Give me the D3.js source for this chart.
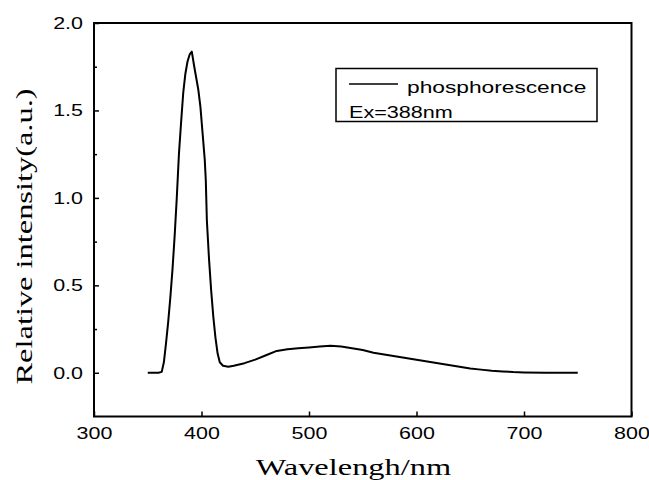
<!DOCTYPE html>
<html>
<head>
<meta charset="utf-8">
<script src="https://cdn.jsdelivr.net/npm/d3@7"></script>
<style>
  body { margin: 0; background: #fff; }
  svg { display: block; }
</style>
</head>
<body>
<svg id="chart" width="649" height="480"></svg>
<script>
// spectrum
const wavelength = [350, 355, 360, 363, 365, 367, 369, 371, 373, 375, 377, 379, 381, 383, 385, 387, 389, 391,
  393, 395, 397, 399, 401, 403, 404, 405, 407, 409, 411, 413, 415, 417, 420, 425, 430, 440, 450, 460, 470,
  480, 490, 500, 510, 520, 530, 540, 550, 560, 570, 580, 590, 600, 610, 620, 630, 640, 650, 660, 670, 680,
  690, 700, 720, 750]
const intensity = [0, 0, 0, 0.005, 0.06, 0.17, 0.29, 0.43, 0.59, 0.78, 1.0, 1.25, 1.43, 1.6, 1.71, 1.78, 1.82, 1.836,
  1.76, 1.69, 1.62, 1.52, 1.37, 1.22, 1.1, 0.87, 0.65, 0.47, 0.32, 0.2, 0.11, 0.06, 0.04, 0.035, 0.04, 0.055, 0.075, 0.1, 0.125,
  0.135, 0.14, 0.145, 0.15, 0.155, 0.15, 0.14, 0.13, 0.115, 0.105, 0.095, 0.085, 0.075, 0.065, 0.055, 0.045, 0.035, 0.025, 0.018, 0.012, 0.008,
  0.004, 0.002, 0, 0]

const xTicks = [300, 400, 500, 600, 700, 800]
const yTicks = [0, 0.5, 1.0, 1.5, 2.0]
const yMinor = [0.25, 0.75, 1.25, 1.75]
const legendLabels = ["phosphorescence", "Ex=388nm"]

const svg = d3.select("#chart")
const L = 94, R = 631.5, T = 23, B = 416.5

const x = d3.scaleLinear().domain([300, 800]).range([L, R])
const y = d3.scaleLinear().domain([-0.25, 2.0]).range([B, T])

// stretch text along its length, the reference glyphs are wide
function stretch(sel, k) {
  sel.each(function() {
    const w = this.getComputedTextLength()
    d3.select(this).attr("textLength", w * k).attr("lengthAdjust", "spacingAndGlyphs")
  })
}

const sans = "Arial, 'Liberation Sans', sans-serif"
const serif = "'Times New Roman', 'Liberation Serif', serif"

// minor y ticks
svg.append("g")
  .attr("transform", `translate(${L},0)`)
  .call(d3.axisLeft(y).tickValues(yMinor).tickSize(-3).tickFormat(""))
  .call(g => g.select(".domain").remove())
  .selectAll("line").attr("stroke", "#000").attr("stroke-width", 1.5)

const yAxis = svg.append("g")
  .attr("transform", `translate(${L},0)`)
  .call(d3.axisLeft(y).tickValues(yTicks).tickSize(-5).tickSizeOuter(0).tickPadding(11).tickFormat(d3.format(".1f")))
yAxis.select(".domain").remove()
yAxis.selectAll("line").attr("stroke", "#000").attr("stroke-width", 1.5)
yAxis.selectAll("text").attr("font-family", sans).attr("font-size", 16.5).attr("fill", "#000")

const xAxis = svg.append("g")
  .attr("transform", `translate(0,${B})`)
  .call(d3.axisBottom(x).tickValues(xTicks).tickSize(-5).tickSizeOuter(0).tickPadding(11).tickFormat(d3.format("d")))
xAxis.select(".domain").remove()
xAxis.selectAll("line").attr("stroke", "#000").attr("stroke-width", 1.5)
xAxis.selectAll("text").attr("font-family", sans).attr("font-size", 16.5).attr("fill", "#000")

stretch(yAxis.selectAll("text"), 1.3)
stretch(xAxis.selectAll("text"), 1.3)

// frame
svg.append("rect")
  .attr("x", L).attr("y", T).attr("width", R - L).attr("height", B - T)
  .attr("fill", "none").attr("stroke", "#000").attr("stroke-width", 2)

// spectrum
const pts = wavelength.map((w, i) => [w, intensity[i]])
svg.append("path")
  .datum(pts)
  .attr("fill", "none")
  .attr("stroke", "#000")
  .attr("stroke-width", 2)
  .attr("stroke-linejoin", "round")
  .attr("d", d3.line().x(d => x(d[0])).y(d => y(d[1])))

// legend
const lg = svg.append("g")
lg.append("rect")
  .attr("x", 336).attr("y", 68.5).attr("width", 261).attr("height", 53)
  .attr("fill", "#fff").attr("stroke", "#000").attr("stroke-width", 1.5)
lg.append("line")
  .attr("x1", 349).attr("x2", 398).attr("y1", 84).attr("y2", 84)
  .attr("stroke", "#000").attr("stroke-width", 1.5)
lg.append("text")
  .attr("x", 407).attr("y", 93)
  .attr("font-family", sans).attr("font-size", 16).attr("fill", "#000")
  .text(legendLabels[0])
lg.append("text")
  .attr("x", 349).attr("y", 118)
  .attr("font-family", sans).attr("font-size", 16).attr("fill", "#000")
  .text(legendLabels[1])
stretch(lg.selectAll("text").filter((d, i) => i === 0), 1.42)
stretch(lg.selectAll("text").filter((d, i) => i === 1), 1.35)

// axis titles
const xt = svg.append("text")
  .attr("x", 353.5).attr("y", 475)
  .attr("text-anchor", "middle")
  .attr("font-family", serif).attr("font-size", 24).attr("fill", "#000")
  .text("Wavelengh/nm")
stretch(xt, 1.35)

const yt = svg.append("text")
  .attr("transform", "translate(32,236.5) rotate(-90)")
  .attr("text-anchor", "middle")
  .attr("font-family", serif).attr("font-size", 24).attr("fill", "#000")
  .text("Relative intensity(a.u.)")
stretch(yt, 1.35)
</script>
</body>
</html>
